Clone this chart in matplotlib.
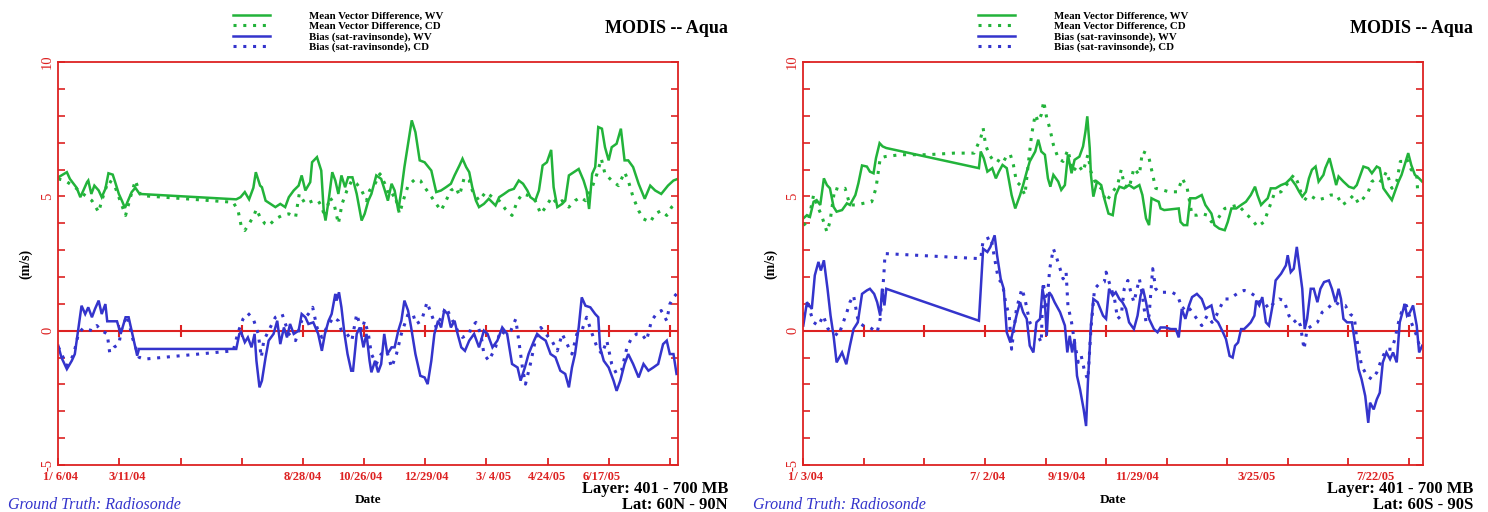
import matplotlib
matplotlib.use("Agg")
import matplotlib.pyplot as plt

RED = "#dd2222"
GREEN = "#22b33a"
BLUE = "#3434cc"
FONT = "Liberation Serif"

# x values are in axis tick units (one tick per interval), y values in m/s

# ---- 60N - 90N ----
left_mvd_wv = [(0, 5.71), (0.14, 5.90), (0.19, 5.65), (0.25, 5.47), (0.30, 5.32), (0.36, 4.97), (0.41, 5.22),
               (0.47, 5.53), (0.49, 5.59), (0.54, 5.09), (0.59, 5.40), (0.66, 5.22), (0.71, 4.97), (0.77, 5.28),
               (0.82, 5.86), (0.89, 5.81), (0.93, 5.53), (0.99, 5.09), (1.04, 4.84), (1.09, 4.57), (1.14, 4.84),
               (1.20, 5.16), (1.26, 5.32), (1.33, 5.09), (2.91, 4.89), (2.98, 4.97), (3.05, 5.16), (3.12, 4.89),
               (3.19, 5.32), (3.23, 5.90), (3.30, 5.40), (3.33, 5.34), (3.39, 4.84), (3.47, 4.72), (3.55, 4.60),
               (3.63, 4.72), (3.71, 4.60), (3.77, 4.97), (3.85, 5.22), (3.93, 5.40), (3.98, 5.78), (4.04, 5.22),
               (4.12, 5.53), (4.15, 6.27), (4.23, 6.46), (4.30, 5.96), (4.34, 4.47), (4.37, 4.10), (4.42, 4.84),
               (4.48, 5.90), (4.53, 5.59), (4.58, 5.09), (4.63, 5.78), (4.69, 5.34), (4.74, 5.71), (4.81, 5.71),
               (4.88, 5.09), (4.96, 4.10), (5.01, 4.35), (5.07, 4.84), (5.12, 5.09), (5.20, 5.78), (5.28, 5.65),
               (5.34, 5.22), (5.39, 4.84), (5.45, 5.47), (5.50, 5.22), (5.56, 4.47), (5.61, 5.22), (5.66, 6.09),
               (5.72, 6.96), (5.78, 7.83), (5.84, 7.39), (5.91, 6.34), (5.99, 6.27), (6.10, 5.96), (6.18, 5.16),
               (6.26, 5.22), (6.34, 5.34), (6.42, 5.47), (6.48, 5.78), (6.56, 6.15), (6.61, 6.40), (6.67, 6.09),
               (6.72, 5.90), (6.77, 5.34), (6.83, 4.84), (6.88, 4.60), (6.96, 4.72), (7.04, 4.91), (7.15, 4.66),
               (7.21, 4.97), (7.29, 5.09), (7.37, 5.22), (7.45, 5.28), (7.53, 5.59), (7.60, 5.47), (7.67, 5.22),
               (7.72, 4.97), (7.80, 4.84), (7.86, 5.22), (7.92, 6.15), (7.99, 6.27), (8.06, 6.73), (8.10, 5.34),
               (8.16, 4.60), (8.24, 4.72), (8.29, 4.84), (8.35, 5.78), (8.43, 5.90), (8.51, 6.02), (8.59, 5.59),
               (8.64, 5.22), (8.68, 4.53), (8.73, 5.84), (8.78, 6.09), (8.83, 7.58), (8.89, 7.52), (8.94, 6.83),
               (9.00, 6.34), (9.05, 6.83), (9.13, 6.96), (9.20, 7.52), (9.26, 6.34), (9.32, 6.34), (9.40, 6.09),
               (9.49, 5.47), (9.59, 4.91), (9.68, 5.40), (9.76, 5.22), (9.86, 5.09), (9.97, 5.40), (10.06, 5.59),
               (10.13, 5.65)]
left_mvd_cd = [(0, 5.65), (0.11, 5.59), (0.27, 5.34), (0.44, 5.03), (0.55, 4.84), (0.63, 4.53), (0.66, 4.41),
               (0.71, 4.84), (0.82, 5.59), (0.91, 5.47), (0.99, 4.97), (1.10, 4.29), (1.18, 4.97), (1.26, 5.59),
               (1.35, 5.03), (2.86, 4.78), (2.94, 4.47), (2.99, 3.91), (3.05, 3.73), (3.12, 3.98), (3.20, 4.29),
               (3.24, 4.53), (3.30, 4.22), (3.38, 3.98), (3.44, 3.91), (3.55, 4.16), (3.66, 4.29), (3.77, 4.35),
               (3.88, 4.22), (3.94, 5.09), (4.04, 4.72), (4.17, 4.84), (4.25, 4.84), (4.31, 4.60), (4.36, 4.22),
               (4.44, 4.97), (4.51, 4.72), (4.58, 3.98), (4.64, 4.72), (4.72, 5.22), (4.80, 5.59), (4.88, 5.47),
               (4.96, 5.22), (5.04, 4.84), (5.09, 5.22), (5.18, 5.47), (5.26, 5.84), (5.34, 5.47), (5.42, 4.97),
               (5.50, 5.09), (5.58, 4.35), (5.64, 4.84), (5.72, 5.40), (5.84, 5.65), (5.92, 5.59), (5.99, 5.34),
               (6.07, 5.09), (6.18, 4.72), (6.26, 4.47), (6.34, 4.84), (6.42, 5.22), (6.50, 5.34), (6.56, 5.03),
               (6.64, 5.71), (6.72, 5.59), (6.77, 5.22), (6.88, 4.84), (6.99, 5.16), (7.10, 4.97), (7.21, 4.84),
               (7.31, 4.53), (7.42, 4.29), (7.51, 4.84), (7.59, 5.09), (7.69, 5.03), (7.80, 4.84), (7.89, 4.35),
               (7.97, 4.60), (8.07, 4.97), (8.16, 4.72), (8.24, 4.84), (8.35, 4.60), (8.45, 4.84), (8.54, 4.97),
               (8.62, 4.84), (8.73, 5.34), (8.81, 5.84), (8.88, 6.40), (8.94, 5.84), (9.05, 5.59), (9.16, 5.40),
               (9.26, 5.90), (9.32, 5.59), (9.40, 4.97), (9.49, 4.47), (9.57, 4.16), (9.68, 4.04), (9.76, 4.35),
               (9.86, 4.47), (9.95, 4.29), (10.03, 4.60), (10.11, 4.78)]
left_bias_wv = [(0, -0.56), (0.05, -0.99), (0.14, -1.43), (0.22, -1.12), (0.27, -0.87), (0.33, 0.12), (0.38, 0.93),
                (0.44, 0.62), (0.49, 0.87), (0.55, 0.50), (0.60, 0.81), (0.66, 1.12), (0.71, 0.62), (0.77, 0.99),
                (0.80, 0.35), (0.96, 0.35), (1.02, -0.12), (1.10, 0.50), (1.15, 0.50), (1.21, -0.12), (1.29, -0.93),
                (1.32, -0.68), (2.91, -0.68), (2.96, -0.12), (2.99, -0.06), (3.05, -0.43), (3.10, -0.25),
                (3.16, -0.62), (3.21, -0.12), (3.24, -1.12), (3.29, -2.11), (3.33, -1.86), (3.39, -0.99),
                (3.44, -0.37), (3.52, -0.12), (3.58, 0.37), (3.63, -0.50), (3.69, 0.12), (3.74, -0.25), (3.79, 0.25),
                (3.85, -0.12), (3.93, 0), (3.98, 0.62), (4.04, 0.50), (4.09, 0.25), (4.17, 0.31), (4.25, -0.12),
                (4.31, -0.75), (4.36, -0.12), (4.42, 0.37), (4.47, 0.62), (4.53, 1.37), (4.55, 1.12), (4.59, 1.43),
                (4.63, 0.87), (4.68, -0.12), (4.73, -0.87), (4.79, -1.49), (4.82, -1.49), (4.88, -0.12), (4.93, 0.12),
                (4.99, -0.62), (5.04, -0.12), (5.09, -1.12), (5.12, -1.55), (5.18, -1.12), (5.23, -1.55),
                (5.28, -1.24), (5.33, -0.12), (5.38, -0.87), (5.45, -0.62), (5.50, -0.62), (5.56, 0), (5.61, 0.37),
                (5.66, 1.12), (5.72, 0.75), (5.77, 0.12), (5.84, -0.87), (5.92, -1.68), (5.99, -1.74), (6.04, -1.99),
                (6.10, -1.12), (6.15, -0.12), (6.21, 0.37), (6.26, 0.12), (6.31, 0.75), (6.37, 0.62), (6.42, 0.12),
                (6.48, 0.37), (6.53, -0.12), (6.59, -0.62), (6.65, -0.75), (6.72, -0.37), (6.80, -0.12),
                (6.88, -0.62), (6.96, 0), (7.02, -0.12), (7.10, -0.62), (7.18, -0.37), (7.26, 0.12), (7.34, -0.12),
                (7.42, -1.24), (7.51, -1.37), (7.56, -1.86), (7.63, -1.37), (7.69, -0.87), (7.78, -0.37),
                (7.83, -0.12), (7.89, -0.25), (7.97, -0.37), (8.05, -0.87), (8.13, -0.99), (8.21, -1.49),
                (8.29, -1.61), (8.35, -2.11), (8.40, -1.37), (8.45, -0.87), (8.51, 0.12), (8.56, 1.24), (8.62, 0.93),
                (8.70, 0.87), (8.78, 0.62), (8.83, 0.50), (8.86, -0.62), (8.92, -1.12), (9.00, -1.37), (9.08, -1.86),
                (9.13, -2.24), (9.19, -1.86), (9.26, -1.24), (9.32, -0.87), (9.40, -1.24), (9.49, -1.74),
                (9.57, -1.24), (9.65, -1.49), (9.73, -1.37), (9.81, -1.24), (9.89, -0.50), (9.95, -0.37),
                (10.00, -0.87), (10.06, -0.87), (10.11, -1.61)]
left_bias_cd = [(0, -0.60), (0.14, -1.30), (0.25, -0.90), (0.33, -0.10), (0.41, 0.10), (0.47, 0.06), (0.55, 0),
                (0.63, 0.19), (0.71, 0), (0.80, -0.12), (0.84, -0.81), (0.91, -0.62), (0.99, -0.50), (1.04, 0.12),
                (1.13, 0.56), (1.21, -0.25), (1.32, -0.99), (1.40, -1.06), (2.86, -0.75), (2.94, -0.06), (3.02, 0.43),
                (3.10, 0.65), (3.19, 0.43), (3.27, -0.12), (3.32, -0.99), (3.36, -0.37), (3.44, 0), (3.55, 0.50),
                (3.66, 0.62), (3.77, -0.12), (3.88, -0.37), (3.98, 0.37), (4.09, 0.62), (4.16, 0.87), (4.23, 0.12),
                (4.31, -0.25), (4.39, 0.12), (4.50, 0.50), (4.58, 0.37), (4.63, 0), (4.72, -0.12), (4.80, -0.37),
                (4.88, 0.62), (4.96, 0), (5.01, 0.37), (5.07, -0.12), (5.12, -0.87), (5.20, -1.24), (5.28, -0.87),
                (5.37, -0.75), (5.45, -1.37), (5.53, -0.87), (5.61, -0.12), (5.72, 0.62), (5.80, 0.62), (5.85, 0.25),
                (5.94, 0.37), (6.03, 1.06), (6.10, 0.62), (6.18, 0.12), (6.26, 0.50), (6.34, 0.87), (6.42, 0.50),
                (6.53, 0), (6.61, -0.25), (6.72, -0.12), (6.75, 0.12), (6.83, 0.31), (6.91, -0.12), (6.96, -0.87),
                (7.04, -1.12), (7.15, -0.62), (7.23, 0), (7.31, -0.12), (7.40, 0), (7.48, 0.43), (7.53, -0.37),
                (7.59, -1.37), (7.64, -1.99), (7.72, -1.24), (7.80, -0.37), (7.89, 0.12), (7.97, -0.12),
                (8.07, -0.37), (8.16, -0.75), (8.24, -0.12), (8.32, -0.50), (8.40, -0.87), (8.48, -0.12), (8.56, 0),
                (8.64, 0.50), (8.73, -0.12), (8.81, -0.62), (8.89, -0.87), (8.97, -0.37), (9.05, -1.24),
                (9.13, -1.61), (9.21, -1.49), (9.30, -0.62), (9.38, -0.25), (9.46, -0.12), (9.54, -0.12),
                (9.62, -0.37), (9.70, 0.37), (9.78, 0.62), (9.86, 0.75), (9.95, 0.37), (10.00, 0.99), (10.06, 1.24),
                (10.11, 1.37)]
left_date_labels = ["1/ 6/04", "3/11/04", "8/28/04", "10/26/04", "12/29/04", "3/ 4/05", "4/24/05", "6/17/05"]
left_date_pos = [0.03, 1.13, 3.99, 4.93, 6.01, 7.11, 7.99, 8.88]

# ---- 60S - 90S ----
right_mvd_wv = [(0, 4.18), (0.06, 4.30), (0.11, 4.24), (0.17, 4.80), (0.22, 4.86), (0.28, 4.68), (0.34, 5.67),
                (0.39, 5.42), (0.44, 5.30), (0.50, 4.61), (0.55, 4.43), (0.64, 4.49), (0.72, 4.74), (0.77, 4.68),
                (0.86, 5.05), (0.91, 5.49), (0.97, 6.15), (1.05, 6.11), (1.10, 5.92), (1.16, 5.86), (1.20, 6.42),
                (1.26, 6.98), (1.31, 6.86), (1.37, 6.80), (2.90, 6.05), (2.93, 6.67), (2.98, 6.42), (3.04, 5.92),
                (3.12, 6.05), (3.18, 5.67), (3.23, 5.92), (3.29, 6.17), (3.36, 6.05), (3.44, 5.05), (3.50, 4.55),
                (3.58, 5.05), (3.63, 5.42), (3.69, 5.92), (3.74, 6.30), (3.83, 6.67), (3.88, 7.11), (3.93, 6.67),
                (3.99, 6.55), (4.04, 5.67), (4.08, 5.36), (4.13, 5.80), (4.21, 5.55), (4.26, 5.24), (4.32, 5.42),
                (4.37, 6.55), (4.43, 5.86), (4.48, 6.36), (4.56, 6.48), (4.62, 6.86), (4.66, 7.42), (4.69, 7.98),
                (4.73, 6.80), (4.75, 5.80), (4.79, 4.99), (4.85, 5.55), (4.92, 5.42), (4.97, 4.93), (5.04, 4.36),
                (5.11, 4.30), (5.16, 5.05), (5.22, 5.36), (5.30, 5.30), (5.38, 5.42), (5.46, 5.30), (5.55, 5.42),
                (5.60, 5.05), (5.66, 4.18), (5.71, 3.93), (5.75, 4.93), (5.81, 4.86), (5.87, 4.80), (5.90, 4.55),
                (5.96, 4.49), (6.20, 4.55), (6.23, 4.05), (6.28, 3.93), (6.34, 3.93), (6.39, 4.93), (6.48, 4.93),
                (6.53, 4.99), (6.58, 5.05), (6.64, 4.68), (6.74, 4.36), (6.79, 3.93), (6.87, 3.80), (6.96, 3.74),
                (7.01, 4.05), (7.07, 4.55), (7.15, 4.55), (7.23, 4.68), (7.31, 4.80), (7.39, 5.05), (7.46, 5.36),
                (7.50, 5.05), (7.56, 4.68), (7.61, 4.80), (7.67, 4.93), (7.72, 5.30), (7.80, 5.30), (7.89, 5.42),
                (7.97, 5.49), (8.05, 5.67), (8.13, 5.42), (8.19, 5.17), (8.24, 4.99), (8.30, 5.17), (8.35, 5.67),
                (8.40, 5.99), (8.46, 6.11), (8.51, 5.55), (8.59, 5.80), (8.62, 6.05), (8.69, 6.42), (8.76, 5.80),
                (8.80, 5.42), (8.84, 5.74), (8.92, 5.55), (9.01, 5.36), (9.09, 5.30), (9.14, 5.42), (9.20, 5.80),
                (9.25, 6.11), (9.33, 6.05), (9.39, 5.86), (9.47, 6.11), (9.52, 6.05), (9.58, 5.30), (9.66, 5.05),
                (9.72, 4.86), (9.77, 5.17), (9.83, 5.55), (9.88, 5.80), (9.93, 6.17), (9.99, 6.61), (10.04, 6.17),
                (10.10, 5.80), (10.17, 5.67), (10.22, 5.55)]
right_mvd_cd = [(0, 3.93), (0.08, 4.05), (0.17, 5.05), (0.25, 4.55), (0.30, 4.30), (0.39, 3.68), (0.44, 4.05),
                (0.52, 5.30), (0.61, 5.24), (0.69, 5.30), (0.77, 4.68), (0.88, 4.68), (0.99, 4.74), (1.13, 4.80),
                (1.20, 5.30), (1.27, 6.42), (1.35, 6.48), (1.60, 6.55), (2.04, 6.55), (2.49, 6.61), (2.82, 6.61),
                (2.93, 7.17), (2.97, 7.54), (3.01, 6.92), (3.07, 6.55), (3.15, 6.30), (3.20, 6.36), (3.29, 6.23),
                (3.37, 6.55), (3.42, 6.55), (3.47, 6.17), (3.52, 5.55), (3.58, 5.42), (3.66, 5.05), (3.72, 6.30),
                (3.77, 7.29), (3.83, 8.04), (3.88, 7.79), (3.93, 8.04), (3.97, 8.54), (4.02, 7.92), (4.07, 7.54),
                (4.13, 6.92), (4.21, 6.42), (4.29, 6.30), (4.37, 6.73), (4.45, 5.92), (4.54, 6.17), (4.62, 5.92),
                (4.70, 6.55), (4.75, 5.92), (4.84, 5.42), (4.92, 5.30), (5.00, 4.80), (5.11, 5.17), (5.19, 5.42),
                (5.25, 5.99), (5.30, 5.42), (5.38, 5.30), (5.46, 6.05), (5.55, 5.80), (5.60, 6.67), (5.66, 6.61),
                (5.71, 6.42), (5.77, 5.80), (5.82, 5.30), (5.93, 5.24), (6.04, 5.17), (6.18, 5.17), (6.26, 5.67),
                (6.34, 5.30), (6.42, 4.30), (6.50, 4.30), (6.58, 4.36), (6.67, 4.30), (6.74, 4.05), (6.85, 4.18),
                (6.96, 4.55), (7.07, 4.61), (7.18, 4.68), (7.31, 4.36), (7.42, 4.11), (7.50, 3.87), (7.61, 4.05),
                (7.69, 4.55), (7.78, 5.11), (7.89, 5.17), (8.00, 5.49), (8.10, 5.80), (8.16, 5.55), (8.24, 4.99),
                (8.32, 4.86), (8.40, 4.99), (8.49, 4.86), (8.60, 4.93), (8.71, 5.05), (8.81, 5.05), (8.90, 4.68),
                (8.98, 4.80), (9.09, 5.05), (9.17, 4.74), (9.25, 4.93), (9.33, 5.17), (9.39, 5.55), (9.47, 5.67),
                (9.55, 5.55), (9.63, 5.92), (9.72, 5.30), (9.80, 5.55), (9.86, 6.30), (9.91, 6.30), (9.96, 6.42),
                (10.04, 5.99), (10.13, 5.80), (10.15, 5.05)]
right_bias_wv = [(0, 0.19), (0.06, 1.06), (0.14, 0.81), (0.19, 2.06), (0.25, 2.56), (0.29, 2.24), (0.34, 2.62),
                 (0.40, 1.56), (0.45, 0.56), (0.50, -0.19), (0.55, -1.18), (0.64, -0.81), (0.71, -1.25), (0.77, -0.56),
                 (0.83, 0.06), (0.90, 0.31), (0.97, 1.37), (1.05, 1.50), (1.10, 1.56), (1.17, 1.37), (1.22, 1.06),
                 (1.27, 0.56), (1.30, 1.56), (1.34, 0.94), (1.37, 1.56), (2.90, 0.37), (2.97, 3.05), (3.04, 2.93),
                 (3.09, 3.12), (3.16, 3.55), (3.20, 2.81), (3.26, 1.93), (3.31, 1.56), (3.36, -0.06), (3.42, -0.44),
                 (3.47, 0.06), (3.52, 0.56), (3.58, 1.06), (3.63, 0.69), (3.69, 0.44), (3.74, -0.56), (3.80, -0.81),
                 (3.85, 0.31), (3.91, 0.44), (3.95, 1.56), (3.99, 1.06), (4.02, -0.19), (4.06, 1.43), (4.10, 1.31),
                 (4.15, 1.06), (4.24, 0.69), (4.32, 0.19), (4.36, -0.81), (4.40, -0.19), (4.44, -0.81), (4.48, -0.31),
                 (4.52, -1.68), (4.57, -2.18), (4.63, -2.93), (4.67, -3.55), (4.70, -1.93), (4.73, -0.69),
                 (4.75, 0.19), (4.79, 1.18), (4.86, 1.06), (4.95, 0.56), (5.00, 0.44), (5.05, 1.56), (5.11, 1.31),
                 (5.16, 1.43), (5.22, 1.18), (5.27, 1.06), (5.33, 0.81), (5.38, 0.31), (5.46, 0.06), (5.52, 0.56),
                 (5.57, 1.31), (5.61, 1.56), (5.66, 1.06), (5.71, 0.44), (5.79, 0.06), (5.85, -0.06), (5.90, 0.12),
                 (5.98, 0.12), (6.07, 0.06), (6.15, 0.06), (6.20, -0.25), (6.25, 0.81), (6.31, 0.44), (6.37, 0.94),
                 (6.42, 1.25), (6.50, 1.37), (6.58, 1.18), (6.64, 0.81), (6.74, 0.94), (6.79, 0.44), (6.85, 0.31),
                 (6.93, -0.06), (6.98, -0.31), (7.04, -0.94), (7.09, -1.00), (7.13, -0.56), (7.18, -0.44),
                 (7.23, 0.06), (7.28, 0.06), (7.34, 0.19), (7.39, 0.31), (7.45, 0.56), (7.48, 1.12), (7.53, 0.94),
                 (7.58, 1.25), (7.64, 0.31), (7.69, 0.19), (7.75, 0.94), (7.80, 1.87), (7.89, 2.12), (7.97, 2.43),
                 (8.00, 2.81), (8.05, 2.18), (8.10, 2.31), (8.15, 3.12), (8.19, 2.43), (8.24, 1.56), (8.28, 0.06),
                 (8.32, 0.44), (8.38, 1.56), (8.43, 1.56), (8.49, 1.06), (8.54, 1.56), (8.60, 1.81), (8.68, 1.87),
                 (8.73, 1.56), (8.79, 1.06), (8.84, 1.56), (8.88, 1.18), (8.92, 0.44), (8.98, 0.31), (9.06, 0.31),
                 (9.11, -0.44), (9.17, -1.43), (9.22, -1.81), (9.28, -2.43), (9.33, -3.43), (9.36, -2.68),
                 (9.42, -2.93), (9.47, -2.56), (9.52, -2.31), (9.57, -1.18), (9.63, -0.81), (9.69, -1.06),
                 (9.74, -0.81), (9.80, -1.18), (9.85, 0.31), (9.91, 0.81), (9.93, 1.00), (9.97, 0.56), (10.02, 0.69),
                 (10.07, 0.94), (10.13, 0.19), (10.17, -0.81), (10.22, -0.56)]
right_bias_cd = [(0, 0.56), (0.08, 0.94), (0.17, 0.31), (0.25, 0.19), (0.33, 0.56), (0.41, 0.06), (0.50, -0.06),
                 (0.58, -0.19), (0.66, 0.31), (0.72, 0.69), (0.77, 1.06), (0.83, 1.31), (0.91, 0.31), (0.99, 0.19),
                 (1.10, 0.12), (1.22, -0.06), (1.27, 0.44), (1.33, 2.06), (1.35, 2.87), (2.93, 2.68), (2.97, 3.37),
                 (3.04, 3.43), (3.10, 3.49), (3.15, 2.81), (3.22, 1.93), (3.29, 1.75), (3.34, 1.06), (3.40, 0.56),
                 (3.44, -0.69), (3.52, 0.81), (3.61, 1.56), (3.66, 1.18), (3.74, 0.31), (3.85, -0.06), (3.93, -0.44),
                 (3.96, 1.81), (4.02, 0.94), (4.07, 2.31), (4.13, 3.05), (4.18, 2.74), (4.24, 2.31), (4.29, 1.93),
                 (4.34, 2.18), (4.37, 0.94), (4.43, 0.31), (4.48, -0.44), (4.54, -1.18), (4.59, -0.94), (4.65, -1.56),
                 (4.70, -1.81), (4.75, 0.06), (4.81, 1.56), (4.89, 1.75), (4.97, 1.81), (5.00, 2.18), (5.05, 1.81),
                 (5.14, 1.18), (5.19, 0.44), (5.25, 0.56), (5.30, 1.56), (5.36, 1.87), (5.41, 1.43), (5.46, 1.06),
                 (5.55, 1.93), (5.60, 1.31), (5.66, 0.31), (5.71, 0.56), (5.77, 2.31), (5.82, 1.56), (5.87, 1.43),
                 (5.98, 1.43), (6.09, 1.43), (6.18, 1.31), (6.26, 0.81), (6.34, 0.94), (6.42, 0.69), (6.50, 0.44),
                 (6.58, 0.19), (6.67, 0.56), (6.75, 0.31), (6.82, 0.56), (6.90, 0.94), (6.96, 1.18), (7.04, 1.18),
                 (7.12, 1.31), (7.20, 1.43), (7.28, 1.50), (7.37, 1.43), (7.45, 1.31), (7.53, 1.06), (7.61, 1.06),
                 (7.69, 0.81), (7.78, 1.06), (7.86, 1.18), (7.94, 1.12), (8.02, 0.56), (8.10, 0.31), (8.16, 0.44),
                 (8.21, 0.19), (8.27, -0.69), (8.32, 0.06), (8.40, 0.19), (8.49, 0.31), (8.57, 0.69), (8.65, 0.81),
                 (8.71, 0.94), (8.79, 1.06), (8.87, 0.94), (8.95, 0.94), (9.03, 0.62), (9.10, 0.50), (9.14, -0.31),
                 (9.22, -1.31), (9.31, -1.68), (9.39, -1.81), (9.47, -1.56), (9.55, -1.06), (9.63, -0.69),
                 (9.72, -0.69), (9.77, -0.31), (9.83, 0.31), (9.88, 0.69), (9.96, 0.94), (10.04, 0.31),
                 (10.13, -0.19), (10.18, -0.62)]
right_date_labels = ["1/ 3/04", "7/ 2/04", "9/19/04", "11/29/04", "3/25/05", "7/22/05"]
right_date_pos = [0.03, 3.05, 4.35, 5.51, 7.49, 9.45]

legend_labels = ["Mean Vector Difference, WV", "Mean Vector Difference, CD",
                 "Bias (sat-ravinsonde), WV", "Bias (sat-ravinsonde), CD"]

fig = plt.figure(figsize=(14.88, 5.12), dpi=100)
fig.patch.set_facecolor("white")


def draw_panel(left, xmax, series, date_pos, date_labels, lat_text):
    ax = fig.add_axes([left, 0.0918, 0.4163, 0.787])
    styles = [(GREEN, "-"), (GREEN, (0, (1, 2.2))), (BLUE, "-"), (BLUE, (0, (1, 2.2)))]
    handles = []
    for data, (col, ls) in zip(series, styles):
        x, y = zip(*data)
        h, = ax.plot(x, y, color=col, linestyle=ls, lw=1.8 if ls == "-" else 2.2, solid_joinstyle="miter")
        handles.append(h)

    # zero line with its own tick marks
    ax.axhline(0, color=RED, lw=1.5, zorder=1)
    ax.plot(range(1, 11), [0] * 10, linestyle="none", marker="|", ms=8, mew=1.5, color=RED, zorder=1)

    ax.set_xlim(0, xmax)
    ax.set_ylim(-5, 10)
    for s in ax.spines.values():
        s.set_color(RED)
        s.set_linewidth(1.3)

    ax.set_xticks(range(0, 11))
    ax.set_xticklabels([])
    ax.set_xticks(date_pos, minor=True)
    ax.set_xticklabels(date_labels, minor=True, fontsize=9, color=RED, family=FONT, fontweight="bold")
    ax.tick_params(axis="x", which="major", direction="in", length=5, width=1.3, color=RED)
    ax.tick_params(axis="x", which="minor", length=0, pad=4)

    ax.set_yticks([-5, 0, 5, 10])
    ax.set_yticks(range(-5, 11), minor=True)
    ax.set_yticklabels(["-5", "0", "5", "10"], rotation=90, va="center", fontsize=10.5, color=RED, family=FONT)
    ax.tick_params(axis="y", which="both", direction="in", length=5, width=1.2, color=RED,
                   left=True, right=True, pad=3)

    ax.set_ylabel("(m/s)", fontsize=10, fontweight="bold", family=FONT, labelpad=6)
    ax.set_xlabel("Date", fontsize=9.5, fontweight="bold", family=FONT, labelpad=8)

    fig.legend(handles, legend_labels, loc="upper left", bbox_to_anchor=(left + 0.114, 0.988),
               frameon=False, prop={"family": FONT, "weight": "bold", "size": 7.8},
               handlelength=3.4, handletextpad=3.6, labelspacing=0.05, borderpad=0)

    fig.text(left + 0.450, 0.945, "MODIS -- Aqua", fontsize=13, fontweight="bold", family=FONT,
             ha="right", va="center")
    fig.text(left + 0.450, 0.038, "Layer: 401 - 700 MB", fontsize=12, fontweight="bold", family=FONT,
             ha="right", va="baseline")
    fig.text(left + 0.450, 0.006, lat_text, fontsize=12, fontweight="bold", family=FONT,
             ha="right", va="baseline")
    fig.text(left - 0.034, 0.014, "Ground Truth: Radiosonde", fontsize=11.5, style="italic", family=FONT,
             color=BLUE, ha="left", va="center")
    return ax


draw_panel(58.3 / 1488, 10.13, [left_mvd_wv, left_mvd_cd, left_bias_wv, left_bias_cd],
           left_date_pos, left_date_labels, "Lat: 60N - 90N")
draw_panel(803.3 / 1488, 10.23, [right_mvd_wv, right_mvd_cd, right_bias_wv, right_bias_cd],
           right_date_pos, right_date_labels, "Lat: 60S - 90S")

fig.savefig("out.png", dpi=100, facecolor="white")
